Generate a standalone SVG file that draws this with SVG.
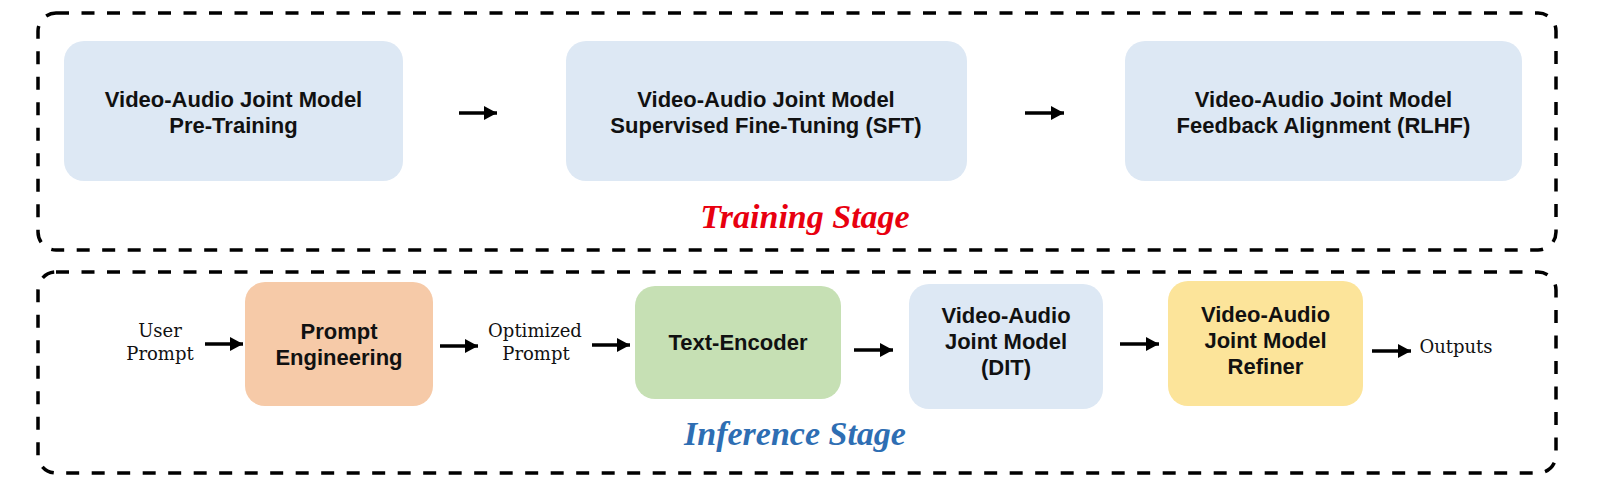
<svg xmlns="http://www.w3.org/2000/svg" width="1600" height="494" viewBox="0 0 1600 494">
<style>
.frame{fill:none;stroke:#000;stroke-width:3.5;stroke-dasharray:13 12.5}
.box{stroke:none}
.blue{fill:#DDE8F4}
.orange{fill:#F6CAA8}
.green{fill:#C6E0B4}
.yellow{fill:#FCE49A}
.lbl{font-family:"Liberation Sans",Arial,sans-serif;font-weight:bold;font-size:22px;fill:#111;text-anchor:middle}
.io{font-family:"DejaVu Serif","Liberation Serif",serif;font-size:18px;fill:#111;text-anchor:middle}
.stage{font-family:"Liberation Serif","Times New Roman",serif;font-weight:bold;font-style:italic;font-size:34px;text-anchor:middle}
.arr{stroke:#000;stroke-width:3.5;fill:none;marker-end:url(#ah)}
</style>
<defs>
<marker id="ah" markerUnits="userSpaceOnUse" markerWidth="14" markerHeight="15" refX="13" refY="7" orient="auto">
<path d="M0,0 L13,7 L0,14 z" fill="#000"/>
</marker>
</defs>
<rect width="1600" height="494" fill="#fff"/>
<g id="training-stage">
<rect class="frame" x="38" y="13" width="1518" height="237" rx="18"/>
<text class="stage" x="805" y="228" fill="#E8000F">Training Stage</text>
</g>
<g id="inference-stage">
<rect class="frame" x="38" y="272" width="1518" height="201" rx="18"/>
<text class="stage" x="795" y="445" fill="#2E6EB3">Inference Stage</text>
</g>
<g id="pretraining">
<rect class="box blue" x="64" y="41" width="339" height="140" rx="20"/>
<text class="lbl" x="233.5" y="107">Video-Audio Joint Model</text>
<text class="lbl" x="233.5" y="133">Pre-Training</text>
</g>
<g id="sft">
<rect class="box blue" x="566" y="41" width="401" height="140" rx="20"/>
<text class="lbl" x="766" y="107">Video-Audio Joint Model</text>
<text class="lbl" x="766" y="133">Supervised Fine-Tuning (SFT)</text>
</g>
<g id="rlhf">
<rect class="box blue" x="1125" y="41" width="397" height="140" rx="20"/>
<text class="lbl" x="1323.5" y="107">Video-Audio Joint Model</text>
<text class="lbl" x="1323.5" y="133">Feedback Alignment (RLHF)</text>
</g>
<g id="user-prompt">
<text class="io" x="160" y="337">User</text>
<text class="io" x="160" y="360">Prompt</text>
</g>
<g id="prompt-engineering">
<rect class="box orange" x="245" y="282" width="188" height="124" rx="20"/>
<text class="lbl" x="339" y="339">Prompt</text>
<text class="lbl" x="339" y="365">Engineering</text>
</g>
<g id="optimized-prompt">
<text class="io" x="535" y="337">Optimized</text>
<text class="io" x="536" y="360">Prompt</text>
</g>
<g id="text-encoder">
<rect class="box green" x="635" y="286" width="206" height="113" rx="20"/>
<text class="lbl" x="738" y="350">Text-Encoder</text>
</g>
<g id="dit">
<rect class="box blue" x="909" y="284" width="194" height="125" rx="20"/>
<text class="lbl" x="1006" y="323">Video-Audio</text>
<text class="lbl" x="1006" y="349">Joint Model</text>
<text class="lbl" x="1006" y="375">(DIT)</text>
</g>
<g id="refiner">
<rect class="box yellow" x="1168" y="281" width="195" height="125" rx="20"/>
<text class="lbl" x="1265.5" y="322">Video-Audio</text>
<text class="lbl" x="1265.5" y="348">Joint Model</text>
<text class="lbl" x="1265.5" y="374">Refiner</text>
</g>
<g id="outputs">
<text class="io" x="1456" y="353">Outputs</text>
</g>
<g id="connectors">
<line class="arr" x1="459" y1="113" x2="497" y2="113"/>
<line class="arr" x1="1025" y1="113" x2="1064" y2="113"/>
<line class="arr" x1="205" y1="344" x2="243" y2="344"/>
<line class="arr" x1="440" y1="346" x2="478" y2="346"/>
<line class="arr" x1="592" y1="345" x2="630" y2="345"/>
<line class="arr" x1="854" y1="350" x2="893" y2="350"/>
<line class="arr" x1="1120" y1="344" x2="1159" y2="344"/>
<line class="arr" x1="1372" y1="351" x2="1411" y2="351"/>
</g>
</svg>
